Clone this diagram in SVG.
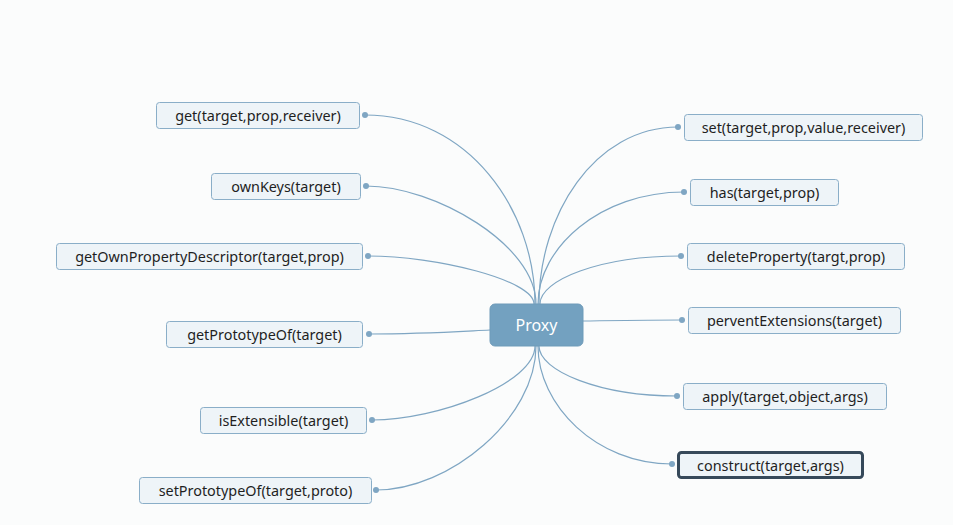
<svg xmlns="http://www.w3.org/2000/svg" width="953" height="525" viewBox="0 0 953 525">
<style>
.bg{fill:#fbfcfc}
.n rect{fill:#eef4f8;stroke:#8aaec8;stroke-width:1}
.n text{font-family:"Noto Sans","Liberation Sans",sans-serif;font-size:14.4px;fill:#1f1f1f;text-anchor:middle;dominant-baseline:central}
.c path{fill:none;stroke:#7fa6c3;stroke-width:1.2}
.c circle{fill:#7fa6c3}
#proxy rect{fill:#73a1c0;stroke:#6f9bb9}
#proxy text{font-family:"Noto Sans","Liberation Sans",sans-serif;font-size:16px;fill:#ffffff;text-anchor:middle;dominant-baseline:central}
#n-construct rect{stroke:#36495a;stroke-width:3}
</style>
<rect class="bg" x="0" y="0" width="953" height="525"/>
<g class="c" id="connectors">
<path d="M535 304 C535 209.5 468 115 365 115"/>
<path d="M536 304 C536 245 435 186 366 186"/>
<path d="M534 304 C534 280 436 256 368 256"/>
<path d="M490 330 C450 332 420 334 369 334"/>
<path d="M535 346 C535 383 438 420 372 420"/>
<path d="M536 346 C536 418 450 490 376 490"/>
<path d="M539 304 C539 215.5 594 127 678 127"/>
<path d="M538 304 C538 248 600 192 684 192"/>
<path d="M540 304 C540 280 600 256 681 256"/>
<path d="M583 321 C620 320.5 650 320 682 320"/>
<path d="M539 346 C539 371 600 396 677 396"/>
<path d="M538 346 C538 405 596 464 672 464"/>
<circle cx="365" cy="115" r="3"/>
<circle cx="366" cy="186" r="3"/>
<circle cx="368" cy="256" r="3"/>
<circle cx="369" cy="334" r="3"/>
<circle cx="372" cy="420" r="3"/>
<circle cx="376" cy="490" r="3"/>
<circle cx="678" cy="127" r="3"/>
<circle cx="684" cy="192" r="3"/>
<circle cx="681" cy="256" r="3"/>
<circle cx="682" cy="320" r="3"/>
<circle cx="677" cy="396" r="3"/>
<circle cx="672" cy="464" r="3"/>
</g>
<g id="proxy"><rect x="490" y="304" width="93" height="42" rx="5"/><text x="536.5" y="325">Proxy</text></g>
<g class="n" id="n-get"><rect x="156.5" y="102.5" width="203" height="26" rx="3"/><text x="258" y="115.5">get(target,prop,receiver)</text></g>
<g class="n" id="n-ownKeys"><rect x="211.5" y="173.5" width="149" height="26" rx="3"/><text x="286" y="186.5">ownKeys(target)</text></g>
<g class="n" id="n-gopd"><rect x="56.5" y="243.5" width="306" height="26" rx="3"/><text x="209.5" y="256.5">getOwnPropertyDescriptor(target,prop)</text></g>
<g class="n" id="n-getProto"><rect x="166.5" y="321.5" width="196" height="26" rx="3"/><text x="264.5" y="334.5">getPrototypeOf(target)</text></g>
<g class="n" id="n-isExt"><rect x="200.5" y="407.5" width="166" height="26" rx="3"/><text x="283.5" y="420.5">isExtensible(target)</text></g>
<g class="n" id="n-setProto"><rect x="139.5" y="477.5" width="232" height="26" rx="3"/><text x="255.5" y="490.5">setPrototypeOf(target,proto)</text></g>
<g class="n" id="n-set"><rect x="684.5" y="114.5" width="238" height="26" rx="3"/><text x="803.5" y="127.5">set(target,prop,value,receiver)</text></g>
<g class="n" id="n-has"><rect x="690.5" y="179.5" width="148" height="26" rx="3"/><text x="764.5" y="192.5">has(target,prop)</text></g>
<g class="n" id="n-delete"><rect x="687.5" y="243.5" width="217" height="26" rx="3"/><text x="796" y="256.5">deleteProperty(targt,prop)</text></g>
<g class="n" id="n-pervent"><rect x="688.5" y="307.5" width="212" height="26" rx="3"/><text x="794.5" y="320.5">perventExtensions(target)</text></g>
<g class="n" id="n-apply"><rect x="683.5" y="383.5" width="203" height="26" rx="3"/><text x="785" y="396.5">apply(target,object,args)</text></g>
<g class="n" id="n-construct"><rect x="678.5" y="452.5" width="184" height="25" rx="3"/><text x="770.5" y="465">construct(target,args)</text></g>
</svg>
